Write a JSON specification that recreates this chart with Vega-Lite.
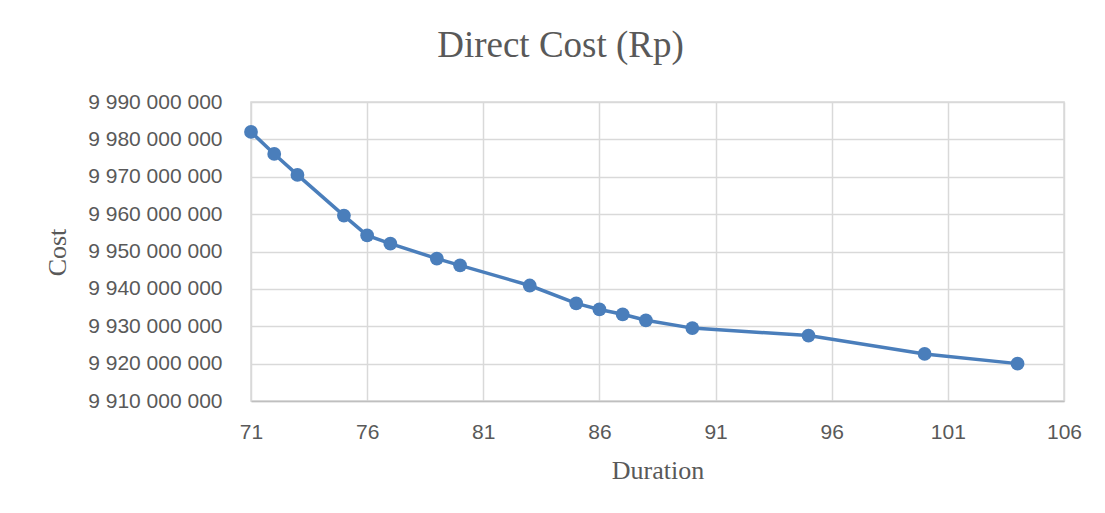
{
  "$schema": "https://vega.github.io/schema/vega-lite/v6.json",
  "autosize": "none",
  "width": 813,
  "height": 299,
  "padding": {"left": 251, "top": 102, "right": 41, "bottom": 112},
  "background": "white",
  "title": {
    "text": "Direct Cost (Rp)",
    "font": "Liberation Serif",
    "fontSize": 37,
    "fontWeight": "normal",
    "color": "#595959",
    "anchor": "middle",
    "frame": "group",
    "dx": -97,
    "offset": 26
  },
  "data": {
    "values": [
      {"duration": 71, "cost": 9982000000},
      {"duration": 72, "cost": 9976100000},
      {"duration": 73, "cost": 9970500000},
      {"duration": 75, "cost": 9959600000},
      {"duration": 76, "cost": 9954300000},
      {"duration": 77, "cost": 9952100000},
      {"duration": 79, "cost": 9948100000},
      {"duration": 80, "cost": 9946300000},
      {"duration": 83, "cost": 9940900000},
      {"duration": 85, "cost": 9936100000},
      {"duration": 86, "cost": 9934500000},
      {"duration": 87, "cost": 9933200000},
      {"duration": 88, "cost": 9931600000},
      {"duration": 90, "cost": 9929500000},
      {"duration": 95, "cost": 9927500000},
      {"duration": 100, "cost": 9922600000},
      {"duration": 104, "cost": 9920000000}
    ]
  },
  "mark": {
    "type": "line",
    "color": "#4a7ebb",
    "strokeWidth": 3.5,
    "point": {"filled": true, "size": 190, "color": "#4a7ebb", "opacity": 1}
  },
  "encoding": {
    "x": {
      "field": "duration",
      "type": "quantitative",
      "scale": {"domain": [71, 106], "nice": false, "zero": false},
      "axis": {
        "title": "Duration",
        "values": [71, 76, 81, 86, 91, 96, 101, 106],
        "ticks": false,
        "tickSize": 0,
        "labelFlush": false,
        "labelPadding": 20,
        "labelFont": "Liberation Sans",
        "labelFontSize": 21,
        "labelColor": "#595959",
        "titleFont": "Liberation Serif",
        "titleFontSize": 26,
        "titleFontWeight": "normal",
        "titleColor": "#595959",
        "titleBaseline": "middle",
        "titleY": 69,
        "domainColor": "#bfbfbf",
        "domainWidth": 1.5,
        "gridColor": "#d9d9d9",
        "gridWidth": 1.5
      }
    },
    "y": {
      "field": "cost",
      "type": "quantitative",
      "scale": {"domain": [9910000000, 9990000000], "nice": false, "zero": false},
      "axis": {
        "title": "Cost",
        "values": [9910000000, 9920000000, 9930000000, 9940000000, 9950000000, 9960000000, 9970000000, 9980000000, 9990000000],
        "labelExpr": "replace(format(datum.value, ',d'), regexp(',', 'g'), ' ')",
        "ticks": false,
        "tickSize": 0,
        "domain": false,
        "labelFlush": false,
        "labelPadding": 29,
        "labelFont": "Liberation Sans",
        "labelFontSize": 21,
        "labelColor": "#595959",
        "titleFont": "Liberation Serif",
        "titleFontSize": 26,
        "titleFontWeight": "normal",
        "titleColor": "#595959",
        "titleBaseline": "middle",
        "titleX": -194,
        "titleY": 150,
        "gridColor": "#d9d9d9",
        "gridWidth": 1.5
      }
    }
  },
  "config": {
    "view": {"stroke": "#d9d9d9", "strokeWidth": 1.5}
  }
}
